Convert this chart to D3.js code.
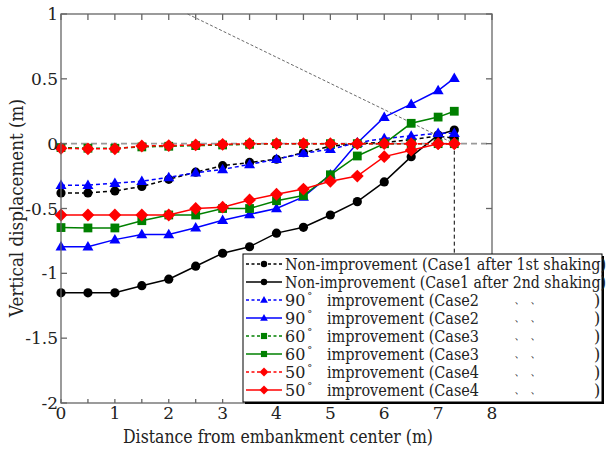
<!DOCTYPE html>
<html><head><meta charset="utf-8">
<script src="https://cdn.jsdelivr.net/npm/d3@7"></script>
<style>body{margin:0;background:#fff}</style>
</head><body><svg id="c" width="611" height="450" style="font-family:'DejaVu Serif','Liberation Serif',serif"></svg>
<script>
const xs = [0,0.5,1,1.5,2,2.5,3,3.5,4,4.5,5,5.5,6,6.5,7,7.3];
const case1_1st = [-0.38,-0.38,-0.365,-0.33,-0.275,-0.22,-0.17,-0.145,-0.12,-0.07,-0.02,0.0,0.01,0.03,0.06,0.04];
const case1_2nd = [-1.15,-1.15,-1.15,-1.095,-1.045,-0.945,-0.845,-0.795,-0.69,-0.645,-0.55,-0.447,-0.295,-0.1,0.067,0.105];
const case2_1st = [-0.32,-0.32,-0.305,-0.29,-0.26,-0.224,-0.198,-0.16,-0.12,-0.074,-0.043,0.008,0.04,0.06,0.08,0.08];
const case2_2nd = [-0.795,-0.795,-0.74,-0.70,-0.70,-0.648,-0.59,-0.545,-0.50,-0.41,-0.24,0.005,0.205,0.305,0.41,0.505];
const case3_1st = [-0.03,-0.035,-0.035,-0.025,-0.02,-0.015,-0.01,-0.005,0,0,0,0,0,0,0,0];
const case3_2nd = [-0.647,-0.65,-0.65,-0.594,-0.55,-0.55,-0.5,-0.5,-0.44,-0.40,-0.24,-0.095,0.0,0.157,0.205,0.25];
const case4_1st = [-0.036,-0.04,-0.04,-0.018,-0.015,-0.01,-0.005,0,0,0,0,0,0,0,0,0];
const case4_2nd = [-0.55,-0.55,-0.55,-0.55,-0.55,-0.5,-0.49,-0.434,-0.39,-0.35,-0.29,-0.25,-0.1,-0.05,0,0];
const xTicks = [0,1,2,3,4,5,6,7,8];
const yTicks = [1,0.5,0,-0.5,-1,-1.5,-2];
const slopeX = [2.35,7.3];
const slopeY = [1,0];

const series = [
 {v:case1_1st, c:"#000", dash:true, m:"circle", name:"Non-improvement (Case1 after 1st shaking)"},
 {v:case1_2nd, c:"#000", dash:false, m:"circle", name:"Non-improvement (Case1 after 2nd shaking)"},
 {v:case2_1st, c:"#0000ff", dash:true, m:"triangle", deg:"90", name:"improvement (Case2"},
 {v:case2_2nd, c:"#0000ff", dash:false, m:"triangle", deg:"90", name:"improvement (Case2"},
 {v:case3_1st, c:"#008000", dash:true, m:"square", deg:"60", name:"improvement (Case3"},
 {v:case3_2nd, c:"#008000", dash:false, m:"square", deg:"60", name:"improvement (Case3"},
 {v:case4_1st, c:"#ff0000", dash:true, m:"diamond", deg:"50", name:"improvement (Case4"},
 {v:case4_2nd, c:"#ff0000", dash:false, m:"diamond", deg:"50", name:"improvement (Case4"}
];

const svg = d3.select("#c");
const L=61,R=492,T=14,B=403;
const x = d3.scaleLinear().domain([0,8]).range([L,R]);
const y = d3.scaleLinear().domain([-2,1]).range([B,T]);
const frameC = "#666";

const g0 = svg.append("g");
g0.append("line").attr("x1",x(0)).attr("x2",x(8)).attr("y1",y(0)).attr("y2",y(0))
  .attr("stroke","#999").attr("stroke-width",1.6).attr("stroke-dasharray","6,4");
g0.append("line").attr("x1",x(slopeX[0])).attr("y1",y(slopeY[0])).attr("x2",x(slopeX[1])).attr("y2",y(slopeY[1]))
  .attr("stroke","#444").attr("stroke-width",0.8).attr("stroke-dasharray","3,2");
g0.append("line").attr("x1",x(slopeX[1])).attr("y1",y(0)).attr("x2",x(slopeX[1])).attr("y2",y(-2))
  .attr("stroke","#000").attr("stroke-width",1).attr("stroke-dasharray","4,3");

function symbolFor(m, k){
  if(m==="circle"){ const r=4.6*k; return `M${-r},0A${r},${r} 0 1,0 ${r},0A${r},${r} 0 1,0 ${-r},0Z`; }
  if(m==="triangle"){ const w=5.5*k, h=9.5*k; return `M0,${-h*0.6}L${w},${h*0.4}L${-w},${h*0.4}Z`; }
  if(m==="square"){ const s=4.4*k; return `M${-s},${-s}H${s}V${s}H${-s}Z`; }
  const d=6.4*k; return `M0,${-d}L${d},0L0,${d}L${-d},0Z`;
}

const line = d3.line().x((d,i)=>x(xs[i])).y(d=>y(d));
const plot = svg.append("g");
series.forEach(s=>{
  plot.append("path").attr("d",line(s.v)).attr("fill","none").attr("stroke",s.c)
    .attr("stroke-width",1.5).attr("stroke-dasharray",s.dash?"4,3":null);
  plot.selectAll(null).data(s.v).enter().append("path")
    .attr("d",symbolFor(s.m,1))
    .attr("transform",(d,i)=>`translate(${x(xs[i])},${y(d)})`)
    .attr("fill",s.c);
});

const fr = svg.append("g").attr("stroke",frameC).attr("stroke-width",1.3).attr("fill","none");
fr.append("rect").attr("x",L).attr("y",T).attr("width",R-L).attr("height",B-T);
d3.range(0,8.01,0.5).forEach(v=>{
  fr.append("line").attr("x1",x(v)).attr("x2",x(v)).attr("y1",B).attr("y2",B-4);
  fr.append("line").attr("x1",x(v)).attr("x2",x(v)).attr("y1",T).attr("y2",T+6);
});
yTicks.forEach(v=>{
  fr.append("line").attr("x1",L).attr("x2",L+6).attr("y1",y(v)).attr("y2",y(v));
  fr.append("line").attr("x1",R).attr("x2",R-6).attr("y1",y(v)).attr("y2",y(v));
});

const tl = svg.append("g").attr("font-size",17).attr("fill","#222");
xTicks.forEach(v=>{
  tl.append("text").attr("x",x(v)).attr("y",B+16).attr("text-anchor","middle").text(d3.format("d")(v));
});
yTicks.forEach(v=>{
  tl.append("text").attr("x",L-3).attr("y",y(v)+6).attr("text-anchor","end").text(String(v));
});
svg.append("text").attr("x",123).attr("y",443).attr("font-size",18).attr("fill","#222")
  .attr("textLength",310).attr("lengthAdjust","spacingAndGlyphs")
  .text("Distance from embankment center (m)");
svg.append("text").attr("transform","translate(23,317) rotate(-90)").attr("font-size",18).attr("fill","#222")
  .attr("textLength",218).attr("lengthAdjust","spacingAndGlyphs")
  .text("Vertical displacement (m)");

const lg = svg.append("g");
const lx=243, ly=254, lw=359, lh=148;
lg.append("rect").attr("x",lx+2).attr("y",ly+2).attr("width",lw).attr("height",lh).attr("fill","#000");
lg.append("rect").attr("x",lx).attr("y",ly).attr("width",lw).attr("height",lh).attr("fill","#fff").attr("stroke","#000").attr("stroke-width",1);
series.forEach((s,i)=>{
  const cy = 264 + i*18;
  lg.append("line").attr("x1",246).attr("x2",282).attr("y1",cy).attr("y2",cy).attr("stroke",s.c)
    .attr("stroke-width",1.3).attr("stroke-dasharray",s.dash?"3,2.5":null);
  lg.append("path").attr("d",symbolFor(s.m,0.7)).attr("transform",`translate(264,${cy})`).attr("fill",s.c);
  const t = lg.append("g").attr("font-size",16).attr("fill","#222");
  if(!s.deg){
    t.append("text").attr("x",285).attr("y",cy+6).attr("textLength",321).attr("lengthAdjust","spacingAndGlyphs").text(s.name);
  } else {
    const d = t.append("text").attr("x",285).attr("y",cy+6);
    d.append("tspan").text(s.deg);
    d.append("tspan").attr("font-size",10).attr("dx",2).attr("dy",-7).text("°");
    t.append("text").attr("x",327).attr("y",cy+6).attr("textLength",152).attr("lengthAdjust","spacingAndGlyphs").text(s.name);
    t.append("text").attr("x",514).attr("y",cy+3).attr("font-size",12).text("、");
    t.append("text").attr("x",530).attr("y",cy+3).attr("font-size",12).text("、");
    t.append("text").attr("x",594).attr("y",cy+6).text(")");
  }
});
</script></body></html>
